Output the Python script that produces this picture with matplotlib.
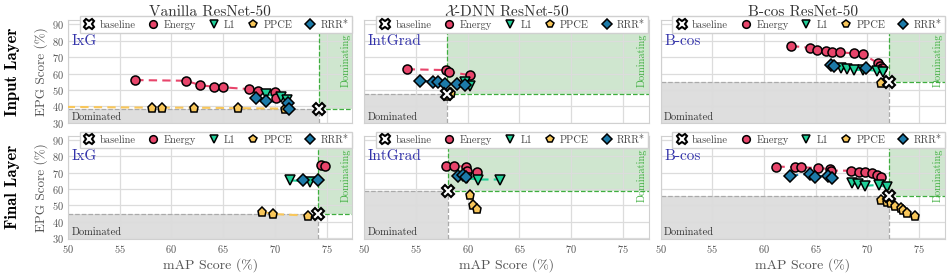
import matplotlib.pyplot as plt

plt.rcParams['font.family'] = ['cmr10', 'DejaVu Serif']
plt.rcParams['mathtext.fontset'] = 'cm'
plt.rcParams['axes.formatter.use_mathtext'] = True
plt.rcParams['axes.unicode_minus'] = False

columns = ['Vanilla ResNet-50', r'$\mathcal{X}$-DNN ResNet-50', 'B-cos ResNet-50']
rows = ['Input Layer', 'Final Layer']
explainers = ['IxG', 'IntGrad', 'B-cos']
methods = ['Energy', 'L1', 'PPCE', 'RRR*']
x_ticks = [50, 55, 60, 65, 70, 75]
y_ticks = [30, 40, 50, 60, 70, 80, 90]

# (mAP, EPG) values
vanilla_input = {
  'baseline': ([74.3], [38.2]),
  'Energy': ([56.5, 61.4, 62.8, 64.1, 65.0, 67.5, 68.4, 70.0, 70.1],
             [56.0, 55.6, 52.9, 51.9, 51.6, 50.5, 49.5, 48.5, 45.0]),
  'L1': ([69.1, 70.6, 71.2], [47.3, 45.7, 43.8]),
  'PPCE': ([40.0, 58.1, 59.1, 62.2, 66.4, 71.0], [40.2, 39.2, 39.2, 39.2, 38.9, 38.6]),
  'RRR*': ([68.2, 69.1, 71.3, 71.4], [44.8, 43.2, 42.3, 38.6]),
}
vanilla_final = {
  'baseline': ([74.2], [45.0]),
  'Energy': ([74.5, 74.9], [74.4, 74.3]),
  'L1': ([71.5, 73.4], [65.3, 64.5]),
  'PPCE': ([68.8, 69.8, 73.2], [46.2, 44.8, 43.8]),
  'RRR*': ([72.7, 74.2], [65.5, 65.5]),
}
xdnn_input = {
  'baseline': ([58.0], [47.4]),
  'Energy': ([54.1, 57.9, 58.2, 60.2], [62.6, 62.1, 61.0, 59.0]),
  'L1': ([59.7, 60.2], [54.6, 52.3]),
  'PPCE': ([58.0, 58.4], [46.5, 48.3]),
  'RRR*': ([55.4, 56.6, 57.1, 57.8, 58.95, 59.7], [55.6, 55.1, 54.6, 53.9, 53.4, 53.3]),
}
xdnn_final = {
  'baseline': ([58.1], [58.7]),
  'Energy': ([57.9, 58.7, 59.8, 59.9, 60.9], [74.2, 74.1, 73.7, 70.8, 70.3]),
  'L1': ([59.9, 61.0, 63.1], [66.5, 65.8, 65.8]),
  'PPCE': ([60.2, 60.5, 60.9], [56.2, 50.3, 48.0]),
  'RRR*': ([59.1, 59.5, 59.8], [67.8, 68.8, 67.2]),
}
bcos_input = {
  'baseline': ([72.1], [54.8]),
  'Energy': ([62.6, 64.4, 65.1, 66.0, 66.6, 67.3, 68.7, 69.6, 71.0, 71.2, 71.4],
             [76.8, 75.7, 74.3, 73.7, 73.3, 72.9, 72.3, 71.7, 66.3, 64.8, 63.2]),
  'L1': ([67.4, 68.0, 68.7, 69.6, 70.9, 71.5], [63.3, 62.7, 62.1, 62.3, 61.7, 61.0]),
  'PPCE': ([71.3], [54.0]),
  'RRR*': ([66.5, 66.8, 69.9], [65.3, 64.3, 63.3]),
}
bcos_final = {
  'baseline': ([72.1], [55.6]),
  'Energy': ([61.2, 63.0, 63.6, 65.2, 66.4, 66.5, 68.4, 69.2, 69.8, 70.4, 70.9, 71.3],
             [73.7, 73.3, 73.3, 72.7, 72.3, 71.2, 71.2, 70.6, 70.2, 69.6, 68.6, 67.6]),
  'L1': ([68.5, 69.1, 69.8, 71.1, 71.9], [63.7, 63.0, 62.0, 62.5, 61.0]),
  'PPCE': ([71.3, 71.9, 72.3, 72.7, 73.2, 73.4, 73.8, 74.6],
           [53.4, 52.3, 51.3, 49.7, 48.7, 47.3, 45.6, 43.6]),
  'RRR*': ([62.5, 64.4, 64.9, 66.2, 66.6], [68.2, 69.2, 67.6, 68.2, 67.0]),
}
panels = [[vanilla_input, xdnn_input, bcos_input],
          [vanilla_final, xdnn_final, bcos_final]]

colors = {'Energy': '#e8456b', 'L1': '#1fcf98', 'PPCE': '#f9c75a', 'RRR*': '#1c7aa8'}
markers = {'Energy': 'o', 'L1': 'v', 'PPCE': 'p', 'RRR*': 'D'}
msizes = {'Energy': 6.5, 'L1': 7, 'PPCE': 6.5, 'RRR*': 6}
xlim = (50, 77.5)
ylim = (29.6, 92.6)

fig, axes = plt.subplots(2, 3, figsize=(9.51, 2.74), dpi=100)
fig.subplots_adjust(left=0.0715, right=0.9937, top=0.927, bottom=0.128, wspace=0.042, hspace=0.117)

for r in range(2):
  for c in range(3):
    ax = axes[r][c]
    data = panels[r][c]
    bx, by = data['baseline'][0][0], data['baseline'][1][0]
    ax.set_xlim(*xlim)
    ax.set_ylim(*ylim)
    ax.set_xticks(x_ticks)
    ax.set_yticks(y_ticks)
    ax.grid(True, color='#dcdcdc', lw=0.9)
    ax.set_axisbelow(True)
    for s in ax.spines.values():
      s.set_color('#d0d0d0')
    ax.tick_params(length=0, labelsize=7.5, labelcolor='#555555', pad=3)
    if c > 0:
      ax.set_yticklabels([])
    else:
      ax.set_ylabel('EPG Score (%)', fontsize=9.5, color='#555555', labelpad=3)
    if r == 0:
      ax.set_xticklabels([])
    else:
      ax.set_xlabel('mAP Score (%)', fontsize=10, color='#555555', labelpad=2)

    # dominated / dominating regions
    ax.fill_between([xlim[0], bx], ylim[0], by, color='#dedede', lw=0, zorder=0.2)
    ax.fill_between([bx, xlim[1]], by, ylim[1], color='#cfe6cf', lw=0, zorder=0.2)
    ax.plot([xlim[0], bx], [by, by], ls='--', color='#aaaaaa', lw=0.9, zorder=1)
    ax.plot([bx, bx], [ylim[0], by], ls='--', color='#aaaaaa', lw=0.9, zorder=1)
    ax.plot([bx, xlim[1]], [by, by], ls='--', color='#3fae3f', lw=0.9, zorder=1)
    ax.plot([bx, bx], [by, ylim[1]], ls='--', color='#3fae3f', lw=0.9, zorder=1)
    ax.text(0.012, 0.035, 'Dominated', transform=ax.transAxes, fontsize=7.5, color='#333333')
    ax.text(0.975, 0.87, 'Dominating', transform=ax.transAxes, fontsize=7.5, color='#3fae3f',
            rotation=90, ha='center', va='top')
    ax.text(0.012, 0.8, explainers[c], transform=ax.transAxes, fontsize=11, color='#3333aa',
            va='center')

    ax.plot(data['baseline'][0], data['baseline'][1], ls='none', marker='X', ms=9,
            mfc='white', mec='black', mew=1.5, label='baseline', zorder=6)
    for m in methods:
      xs, ys = data[m]
      ax.plot(xs, ys, ls=(0, (4, 2.5)), color=colors[m], lw=1.5, zorder=3)
      ax.plot(xs, ys, ls='none', marker=markers[m], ms=msizes[m], mfc=colors[m],
              mec='black', mew=1.1, label=m, zorder=4)

    leg = ax.legend(loc='upper center', bbox_to_anchor=(0.52, 1.035), ncol=5, fontsize=7.5,
                    frameon=True, framealpha=1, edgecolor='#d0d0d0', fancybox=False,
                    handletextpad=0.4, columnspacing=1.1, borderpad=0.3, handlelength=1.2,
                    borderaxespad=0, markerscale=0.85, labelcolor='#444444')
    leg.set_zorder(10)
    if r == 0:
      ax.set_title(columns[c], fontsize=11, pad=3, color='#333333')
    if c == 0:
      ax.text(-0.195, 0.5, rows[r], transform=ax.transAxes, rotation=90, fontsize=12,
              fontfamily='cmb10', ha='center', va='center')

fig.savefig('out.png', dpi=100)
